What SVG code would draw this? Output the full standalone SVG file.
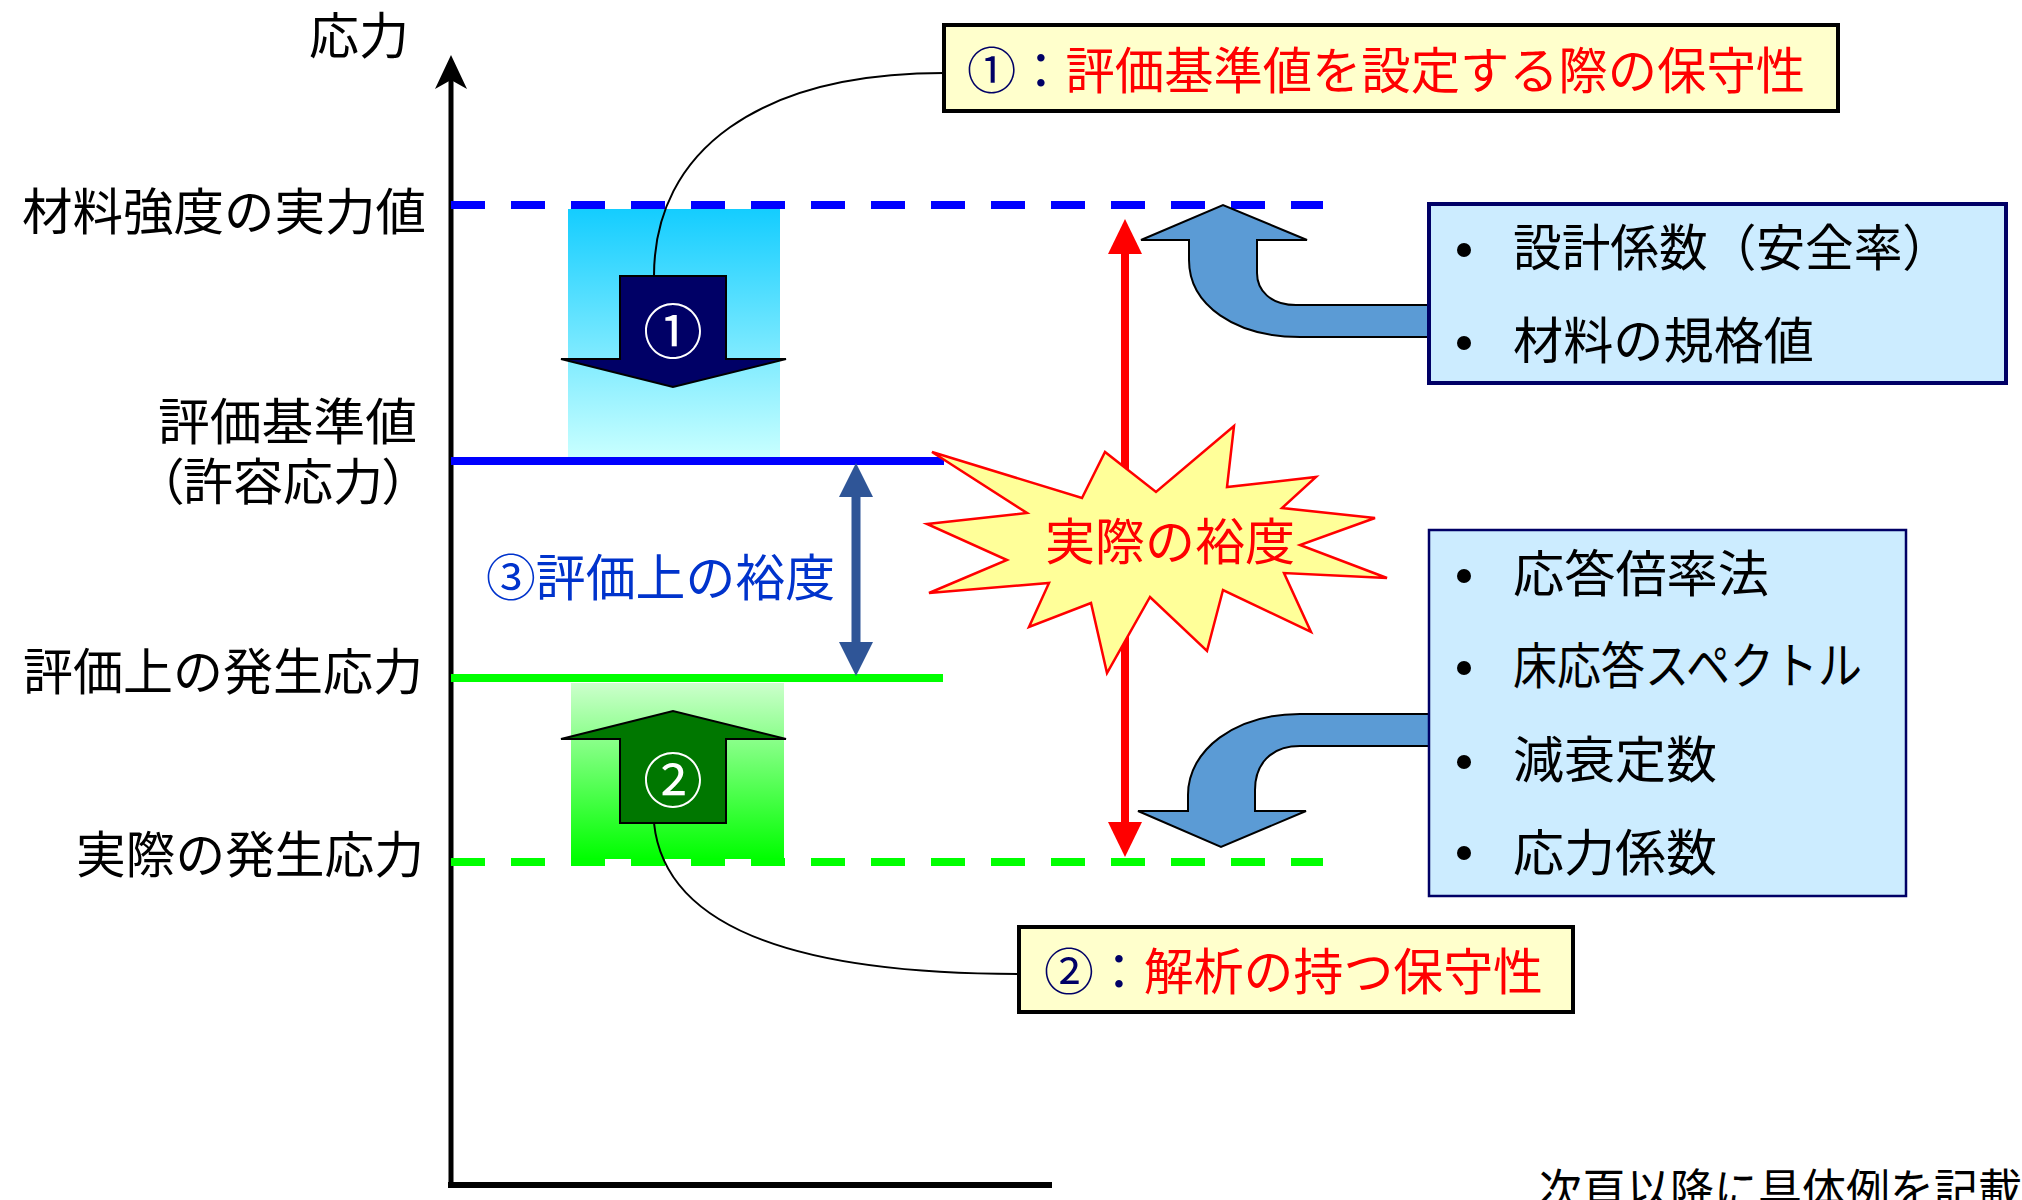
<svg xmlns="http://www.w3.org/2000/svg" width="2022" height="1200" viewBox="0 0 2022 1200">
<defs>
<linearGradient id="gBlue" x1="0" y1="0" x2="0" y2="1">
<stop offset="0" stop-color="#14CDFF"/>
<stop offset="1" stop-color="#C8FFFF"/>
</linearGradient>
<linearGradient id="gGreen" x1="0" y1="0" x2="0" y2="1">
<stop offset="0" stop-color="#CCFFCC"/>
<stop offset="1" stop-color="#00FF00"/>
</linearGradient>
</defs>
<style>
text{font-family:"Noto Sans CJK JP","Noto Sans CJK SC",sans-serif;font-size:50px;}
.k{fill:#000;}
.r{fill:#FF0000;}
.n{fill:#000066;}
.w{fill:#FFFFFF;font-size:60px;}
.lab{fill:#FFFFCC;stroke:#000;stroke-width:4;}
.box{fill:#CCECFF;stroke:#000066;}
.dash{stroke-width:8;stroke-dasharray:34 26;fill:none;}
.curve{fill:none;stroke:#000;stroke-width:2;}
.barrow{fill:#5B9BD5;stroke:#000;stroke-width:2;stroke-linejoin:miter;}
.dot{fill:#000;}
.palt{font-feature-settings:"palt";}
</style>

<g id="bands">
<rect x="568" y="209" width="212" height="248" fill="url(#gBlue)"/>
<rect x="571" y="683" width="213" height="176" fill="url(#gGreen)"/>
</g>

<g id="axis">
<line x1="451" y1="79" x2="451" y2="1188" stroke="#000" stroke-width="5"/>
<line x1="448" y1="1185" x2="1052" y2="1185" stroke="#000" stroke-width="6"/>
<polygon points="451,55 467,89 451,80 435,89" fill="#000"/>
<text x="309" y="54" textLength="100" lengthAdjust="spacingAndGlyphs" class="k">応力</text>
</g>

<g id="levels">
<line x1="451" y1="205" x2="1323" y2="205" stroke="#0000FF" class="dash"/>
<line x1="451" y1="461" x2="944" y2="461" stroke="#0000FF" stroke-width="8"/>
<line x1="451" y1="678" x2="943" y2="678" stroke="#00FF00" stroke-width="8"/>
<line x1="451" y1="862" x2="1323" y2="862" stroke="#00FF00" class="dash"/>
<text x="22" y="230" textLength="404" lengthAdjust="spacingAndGlyphs" class="k">材料強度の実力値</text>
<text x="158" y="440" textLength="259" lengthAdjust="spacingAndGlyphs" class="k">評価基準値</text>
<text x="158" y="500" textLength="250" lengthAdjust="spacingAndGlyphs" class="k palt">（許容応力）</text>
<text x="23" y="690" textLength="400" lengthAdjust="spacingAndGlyphs" class="k">評価上の発生応力</text>
<text x="76" y="873" textLength="348" lengthAdjust="spacingAndGlyphs" class="k">実際の発生応力</text>
</g>

<g id="connectors">
<path class="curve" d="M654,276 C654,150 760,73 944,73"/>
<path class="curve" d="M654,823 C665,930 800,974 1019,974"/>
<g id="redArrow">
<line x1="1125" y1="250" x2="1125" y2="826" stroke="#FF0000" stroke-width="8"/>
<polygon points="1125,219 1142,254 1108,254" fill="#FF0000"/>
<polygon points="1125,857 1142,822 1108,822" fill="#FF0000"/>
</g>
<g id="margin3Arrow">
<line x1="856" y1="490" x2="856" y2="648" stroke="#2F5597" stroke-width="9"/>
<polygon points="856,463 873,497 839,497" fill="#2F5597"/>
<polygon points="856,676 873,642 839,642" fill="#2F5597"/>
</g>
<path class="barrow" d="M1429,305 L1296,305 C1270,305 1257,290 1257,273 L1257,240 L1307,240 L1223,205 L1141,240 L1189,240 L1189,260 C1189,305 1235,337 1300,337 L1429,337 Z"/>
<path class="barrow" d="M1429,714 L1300,714 C1235,714 1188,750 1188,795 L1188,811 L1138,811 L1221,847 L1306,811 L1255,811 L1255,790 C1255,765 1270,746 1300,746 L1429,746 Z"/>
</g>

<g id="arrow1">
<polygon points="620,276 726,276 726,359 786,359 673,387 561,359 620,359" fill="#000066" stroke="#000" stroke-width="2"/>
<text x="673" y="327" text-anchor="middle" dominant-baseline="central" class="w">①</text>
</g>

<g id="arrow2">
<polygon points="620,823 726,823 726,739 786,739 673,711 561,739 620,739" fill="#007700" stroke="#000" stroke-width="2"/>
<text x="673" y="776" text-anchor="middle" dominant-baseline="central" class="w">②</text>
</g>

<g id="star">
<polygon points="932,452 1082,498 1105,452 1156,492 1234,426 1227,487 1316,477 1282,508 1375,518 1300,545 1387,578 1284,573 1311,632 1223,590 1207,651 1150,597 1107,673 1091,603 1029,627 1049,583 929,593 1007,560 927,524 1027,513" fill="#FFFF99" stroke="#FF0000" stroke-width="2.5"/>
<text x="1045" y="560" textLength="250" lengthAdjust="spacingAndGlyphs" class="r">実際の裕度</text>
</g>

<g id="margin3Label">
<text x="486" y="596" textLength="349" lengthAdjust="spacingAndGlyphs" fill="#0033CC">③評価上の裕度</text>
</g>

<g id="label1">
<rect class="lab" x="944" y="25" width="894" height="86"/>
<text x="967" y="89" textLength="838" lengthAdjust="spacingAndGlyphs"><tspan class="n">①：</tspan><tspan class="r">評価基準値を設定する際の保守性</tspan></text>
</g>

<g id="label2">
<rect class="lab" x="1019" y="927" width="554" height="85"/>
<text x="1044" y="990" textLength="499" lengthAdjust="spacingAndGlyphs"><tspan class="n">②：</tspan><tspan class="r">解析の持つ保守性</tspan></text>
</g>

<g id="boxUpper">
<rect class="box" x="1429" y="204" width="577" height="179" stroke-width="4"/>
<circle class="dot" cx="1464" cy="250" r="7"/>
<circle class="dot" cx="1464" cy="343" r="7"/>
<text x="1513" y="266" textLength="438" lengthAdjust="spacingAndGlyphs" class="k">設計係数（安全率）</text>
<text x="1513" y="359" textLength="301" lengthAdjust="spacingAndGlyphs" class="k">材料の規格値</text>
</g>

<g id="boxLower">
<rect class="box" x="1429" y="530" width="477" height="366" stroke-width="2.5"/>
<circle class="dot" cx="1464" cy="576" r="7"/>
<circle class="dot" cx="1464" cy="668" r="7"/>
<circle class="dot" cx="1464" cy="762" r="7"/>
<circle class="dot" cx="1464" cy="853" r="7"/>
<text x="1513" y="592" textLength="256" lengthAdjust="spacingAndGlyphs" class="k">応答倍率法</text>
<text x="1513" y="684" textLength="349" lengthAdjust="spacingAndGlyphs" class="k">床応答スペクトル</text>
<text x="1513" y="778" textLength="204" lengthAdjust="spacingAndGlyphs" class="k">減衰定数</text>
<text x="1513" y="871" textLength="204" lengthAdjust="spacingAndGlyphs" class="k">応力係数</text>
</g>

<g id="note">
<text x="1538" y="1207" textLength="484" lengthAdjust="spacingAndGlyphs" class="k" style="font-size:46px">次頁以降に具体例を記載</text>
</g>
</svg>
